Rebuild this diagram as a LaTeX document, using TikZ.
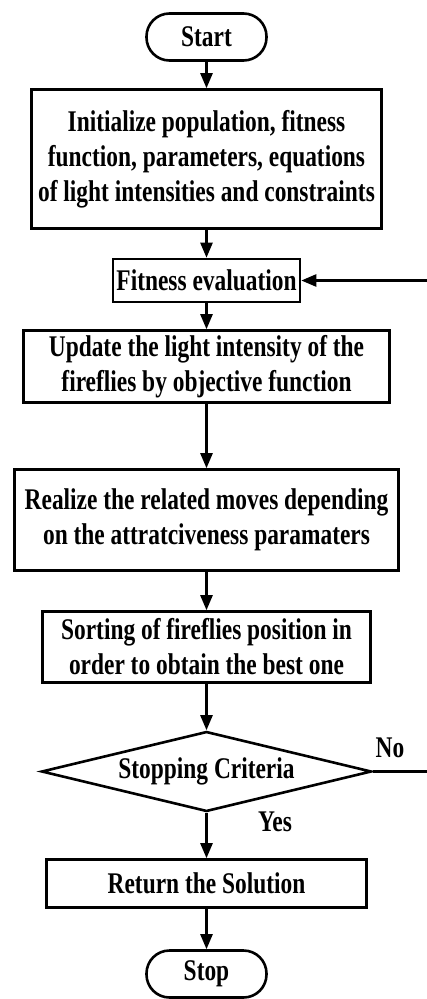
\documentclass[tikz,border=0pt]{standalone}
\usepackage{fontspec}
\setmainfont{Liberation Serif}[FakeStretch=0.78]
\usetikzlibrary{shapes.geometric,arrows.meta}

\begin{document}
\begin{tikzpicture}[x=1pt, y=-1pt,
                    font=\bfseries\fontsize{30}{35}\selectfont,
                    box/.style={draw, line width=2.6pt, align=center, inner sep=0pt},
                    term/.style={box, rounded corners=23pt,
                                 minimum width=120pt, minimum height=47pt},
                    decision/.style={draw, line width=2.6pt, diamond, aspect=4,
                                     inner sep=0pt, minimum width=330pt, minimum height=80pt},
                    flow/.style={line width=2.4pt, -{Triangle[length=15pt,width=12pt]}}]
  \useasboundingbox (0,0) rectangle (426,999);

  % main column
  \node[term] (start) at (206.5,37) {Start};
  \node[box, minimum width=350pt, minimum height=139pt] (init) at (206.5,159)
    {Initialize population, fitness\\function, parameters, equations\\of light intensities and constraints};
  \node[box, minimum width=187pt, minimum height=43pt] (fit) at (206.5,280.5) {Fitness evaluation};
  \node[box, minimum width=366pt, minimum height=72pt] (upd) at (206.5,366.5)
    {Update the light intensity of the\\fireflies by objective function};
  \node[box, minimum width=384pt, minimum height=101pt] (real) at (206.5,520)
    {Realize the related moves depending\\on the attratciveness paramaters};
  \node[box, minimum width=328pt, minimum height=71pt] (sort) at (206.5,647)
    {Sorting of fireflies position in\\order to obtain the best one};
  \node[decision] (crit) at (206.5,771.5) {Stopping Criteria};
  \node[box, minimum width=320pt, minimum height=48pt] (ret) at (206.5,883.5) {Return the Solution};
  \node[term] (stop) at (206.5,974) {Stop};

  % labels
  \node (no) at (390,748) {No};
  \node (yes) at (275,822) {Yes};

  % arrows
  \foreach \a/\b in {start/init, init/fit, fit/upd, upd/real, real/sort,
                     sort/crit, crit/ret, ret/stop}
    \draw[flow] (\a) -- (\b);

  % loop back (cut at the right edge)
  \coordinate (loopout) at (430,771.5);
  \coordinate (loopin) at (430,280.5);
  \draw[line width=2.4pt] (crit.east) -- (loopout);
  \draw[flow] (loopin) -- (fit.east);
\end{tikzpicture}
\end{document}
